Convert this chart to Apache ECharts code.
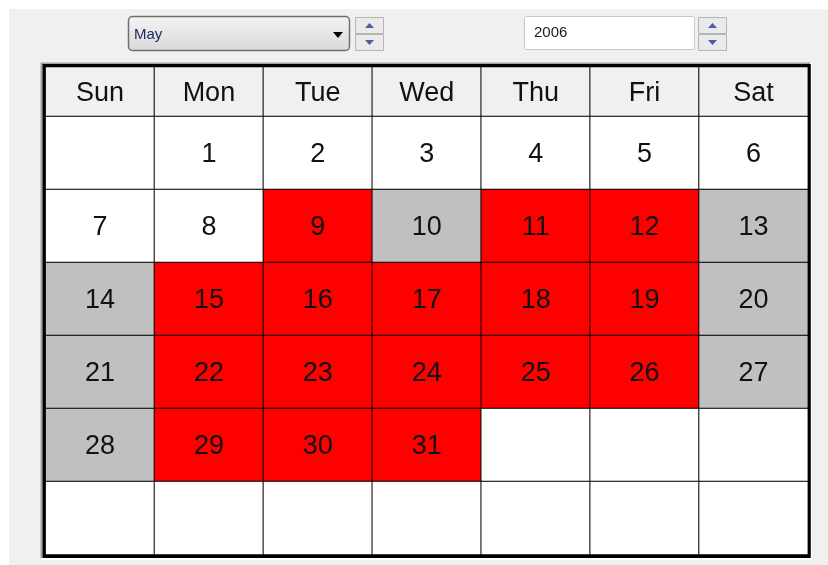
<!DOCTYPE html>
<html>
<head>
<meta charset="utf-8">
<script src="https://cdn.jsdelivr.net/npm/echarts@6/dist/echarts.min.js"></script>
<style>
  html, body { margin: 0; padding: 0; background: #fff; }
  #main { width: 828px; height: 565px; }
</style>
</head>
<body>
<div id="main"></div>
<script>
// calendar data: May 2006
var weekDays = ['Sun', 'Mon', 'Tue', 'Wed', 'Thu', 'Fri', 'Sat'];
var weekRows = ['0', '1', '2', '3', '4', '5'];
var monthName = 'May';
var yearText = '2006';
var firstWeekday = 1; // May 1 2006 is a Monday
var daysInMonth = 31;
var redDays = [9, 11, 12, 15, 16, 17, 18, 19, 22, 23, 24, 25, 26, 29, 30, 31];
var grayDays = [10, 13, 14, 20, 21, 27, 28];

var FONT = 'Liberation Sans, Arial, sans-serif';

// header row
var headerData = weekDays.map(function (d, i) {
    return [i, 0, 0, d];
});

// day cells: [col, row, state, label]  state 0 = white, 1 = gray, 2 = red
var dayData = [];
for (var k = 0; k < 42; k++) {
    var day = k - firstWeekday + 1;
    var label = '';
    var state = 0;
    if (day >= 1 && day <= daysInMonth) {
        label = String(day);
        if (redDays.indexOf(day) >= 0) state = 2;
        else if (grayDays.indexOf(day) >= 0) state = 1;
    }
    dayData.push([k % 7, Math.floor(k / 7), state, label]);
}

function spinner(x, y) {
    var w = 28, h = 16;
    return [
        {type: 'rect', shape: {x: x + 0.5, y: y + 0.5, width: w, height: h},
         style: {fill: '#eaeaea', stroke: '#b5b5b5', lineWidth: 1}},
        {type: 'rect', shape: {x: x + 0.5, y: y + h + 1.5, width: w, height: h},
         style: {fill: '#eaeaea', stroke: '#b5b5b5', lineWidth: 1}},
        {type: 'polygon', shape: {points: [[x + w / 2 - 4, y + 11], [x + w / 2 + 5, y + 11], [x + w / 2 + 0.5, y + 6]]},
         style: {fill: '#4a5ea8'}},
        {type: 'polygon', shape: {points: [[x + w / 2 - 4, y + h + 7], [x + w / 2 + 5, y + h + 7], [x + w / 2 + 0.5, y + h + 12]]},
         style: {fill: '#4a5ea8'}}
    ];
}

var chart = echarts.init(document.getElementById('main'));

var graphics = [
    // panel
    {type: 'rect', z: -10, shape: {x: 9, y: 9, width: 819, height: 556}, style: {fill: '#f0f0f0'}},
    // month dropdown
    {type: 'rect', shape: {x: 128.5, y: 16.5, width: 221, height: 34, r: 4},
     style: {fill: new echarts.graphic.LinearGradient(0, 0, 0, 1, [
         {offset: 0, color: '#f4f4f4'}, {offset: 1, color: '#d9d9d9'}]), stroke: '#707070', lineWidth: 1.5}},
    {type: 'text', style: {x: 134, y: 35, text: monthName, font: '15px ' + FONT, fill: '#1c2a66', verticalAlign: 'middle'}},
    {type: 'polygon', shape: {points: [[333, 32], [343, 32], [338, 38]]}, style: {fill: '#000'}},
    // year box
    {type: 'rect', shape: {x: 524.5, y: 16.5, width: 170, height: 33, r: 2},
     style: {fill: '#fff', stroke: '#c8c8c8', lineWidth: 1}},
    {type: 'text', style: {x: 534, y: 33, text: yearText, font: '15px ' + FONT, fill: '#1a1a1a', verticalAlign: 'middle'}},
    // sunken frame of the calendar
    {type: 'polyline', z: 100, shape: {points: [[41.5, 559], [41.5, 63.5], [811, 63.5]]},
     style: {stroke: '#a0a0a0', lineWidth: 2, fill: null}},
    {type: 'polyline', z: 100, shape: {points: [[811, 63], [811, 559], [41, 559]]},
     style: {stroke: '#ffffff', lineWidth: 2, fill: null}},
    {type: 'rect', z: 101, shape: {x: 44, y: 65.5, width: 765.3, height: 491}, style: {fill: null, stroke: '#000', lineWidth: 3}}
].concat(spinner(355, 17), spinner(698, 17));

var labelStyle = {
    show: true,
    formatter: function (p) { return p.data[3]; },
    fontFamily: FONT,
    fontSize: 27,
    color: '#111',
    offset: [0, 2]
};

chart.setOption({
    animation: false,
    backgroundColor: '#fff',
    graphic: graphics,
    grid: [
        {left: 45.5, top: 67, width: 762.5, height: 49.5},
        {left: 45.5, top: 116.5, width: 762.5, height: 438}
    ],
    xAxis: [
        {type: 'category', gridIndex: 0, data: weekDays, show: false},
        {type: 'category', gridIndex: 1, data: weekDays, show: false}
    ],
    yAxis: [
        {type: 'category', gridIndex: 0, data: ['h'], show: false},
        {type: 'category', gridIndex: 1, data: weekRows, inverse: true, show: false}
    ],
    visualMap: [
        {type: 'piecewise', show: false, seriesIndex: 0, dimension: 2,
         pieces: [{value: 0, color: '#f0f0f0'}]},
        {type: 'piecewise', show: false, seriesIndex: 1, dimension: 2,
         pieces: [{value: 0, color: '#ffffff'}, {value: 1, color: '#c0c0c0'}, {value: 2, color: '#ff0000'}]}
    ],
    series: [
        {
            type: 'heatmap',
            xAxisIndex: 0,
            yAxisIndex: 0,
            data: headerData,
            itemStyle: {borderColor: '#000', borderWidth: 1},
            label: labelStyle,
            emphasis: {disabled: true}
        },
        {
            type: 'heatmap',
            xAxisIndex: 1,
            yAxisIndex: 1,
            data: dayData,
            itemStyle: {borderColor: '#000', borderWidth: 1},
            label: labelStyle,
            emphasis: {disabled: true}
        }
    ]
});
</script>
</body>
</html>
